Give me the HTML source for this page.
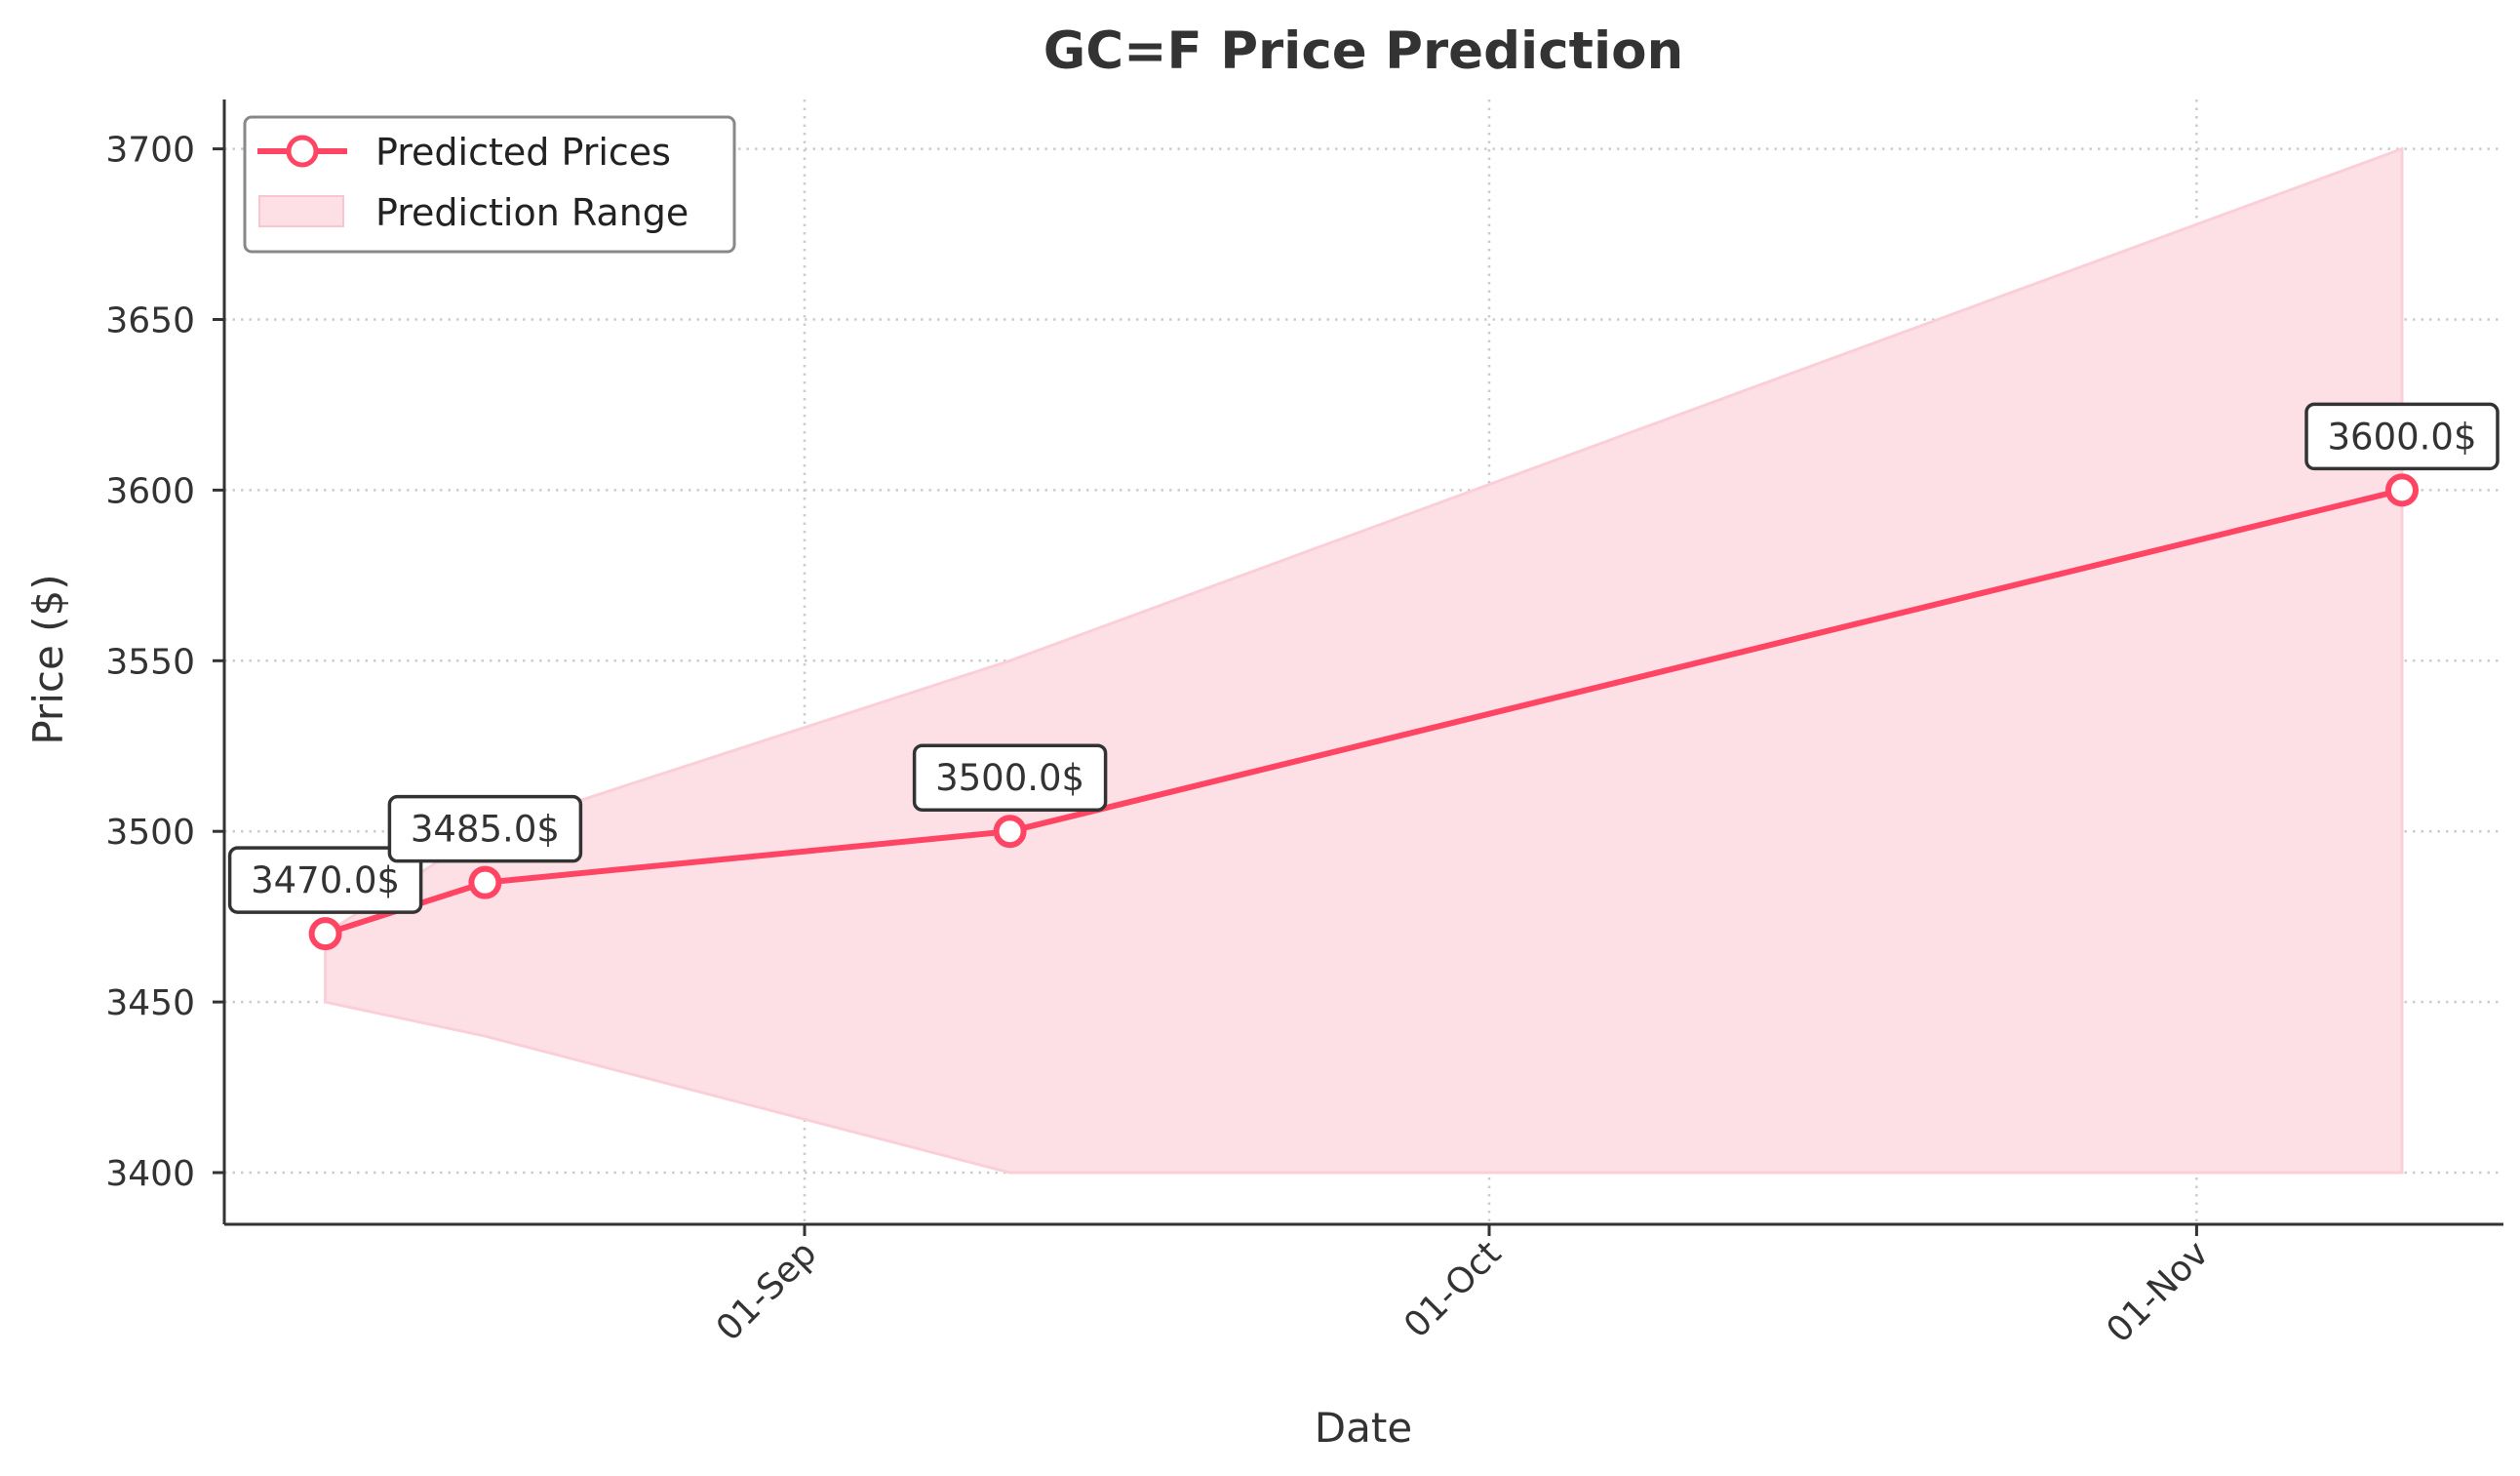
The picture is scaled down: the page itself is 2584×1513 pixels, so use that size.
<!DOCTYPE html>
<html><head><meta charset="utf-8"><style>
html,body{margin:0;padding:0;background:#fff;}
svg{display:block;font-family:"DejaVu Sans","Liberation Sans",sans-serif;}
</style></head><body>
<svg id="chart" width="2584" height="1513" viewBox="0 0 2584 1513" xmlns="http://www.w3.org/2000/svg">
<text x="1398" y="70" text-anchor="middle" font-size="53" font-weight="bold" fill="#333">GC=F Price Prediction</text>
<g id="grid"></g>
<g id="band"></g>
<g id="series"></g>
<g id="axes"></g>
<g id="labels"></g>
<text x="1398" y="1478" text-anchor="middle" font-size="42" fill="#333">Date</text>
<text transform="translate(64,676) rotate(-90)" text-anchor="middle" font-size="42" fill="#333">Price ($)</text>
<g>
<rect x="251" y="120" width="502" height="138" rx="7" fill="#fff" stroke="#888" stroke-width="3"/>
<line x1="264" y1="155" x2="356" y2="155" stroke="#ff4563" stroke-width="6"/>
<circle cx="310" cy="155" r="14" fill="#fff" stroke="#ff4563" stroke-width="5"/>
<rect x="266" y="201" width="86" height="31" fill="#fde0e6" stroke="#f9c6d0" stroke-width="2"/>
<text x="385" y="169" font-size="38" fill="#222">Predicted Prices</text>
<text x="385" y="231" font-size="38" fill="#222">Prediction Range</text>
</g>
</svg>
<script>
const dates = ["2025-08-11","2025-08-18","2025-09-10","2025-11-10"];
const prices = [3470, 3485, 3500, 3600];
const upper = [3470, 3500, 3550, 3700];
const lower = [3450, 3440, 3400, 3400];
const yTicks = [3400, 3450, 3500, 3550, 3600, 3650, 3700];
const xTickDates = ["2025-09-01","2025-10-01","2025-11-01"];
const xTickLabels = ["01-Sep","01-Oct","01-Nov"];

const NS="http://www.w3.org/2000/svg";
const L=230,R=2567,T=102,B=1255;
const day=86400000, ref=Date.parse("2025-09-01");
function xs(d){return 825+(Date.parse(d)-ref)/day*23.4;}
function ys(v){return 1202-(v-3400)/300*1049.4;}
function mk(tag,attrs,parent){const e=document.createElementNS(NS,tag);for(const k in attrs)e.setAttribute(k,attrs[k]);parent.appendChild(e);return e;}
const grid=document.getElementById('grid'),band=document.getElementById('band'),series=document.getElementById('series'),axes=document.getElementById('axes'),labels=document.getElementById('labels');

yTicks.forEach(v=>{
  const y=ys(v);
  const g=mk('line',{x1:L,x2:R,y1:y,y2:y,stroke:'#ccc','stroke-width':2.5,'stroke-dasharray':'2.5 6'},grid);
  
  
  const t=mk('line',{x1:L-12,x2:L,y1:y,y2:y,stroke:'#333','stroke-width':3},axes);
  
  
  const tx=mk('text',{x:L-30,y:y+13,'text-anchor':'end','font-size':36,fill:'#333'},axes);
  tx.textContent=v;
  
  
});
xTickDates.forEach((d,i)=>{
  const x=xs(d);
  const g=mk('line',{x1:x,x2:x,y1:T,y2:B,stroke:'#ccc','stroke-width':2.5,'stroke-dasharray':'2.5 6'},grid);
  
  
  const t=mk('line',{x1:x,x2:x,y1:B,y2:B+12,stroke:'#333','stroke-width':3},axes);
  
  
  const tx=mk('text',{transform:`translate(${x+14},${B+32}) rotate(-45)`,'text-anchor':'end','font-size':36,fill:'#333'},axes);
  tx.textContent=xTickLabels[i];
  
  
});
const sp1=mk('line',{x1:L,x2:L,y1:T,y2:B,stroke:'#333','stroke-width':3},axes);


const sp2=mk('line',{x1:L,x2:R,y1:B,y2:B,stroke:'#333','stroke-width':3},axes);



let pts=dates.map((d,i)=>xs(d)+','+ys(upper[i]));
for(let i=dates.length-1;i>=0;i--)pts.push(xs(dates[i])+','+ys(lower[i]));
const poly=mk('polygon',{points:pts.join(' '),fill:'#fde0e6',stroke:'#fbcfd8','stroke-width':3},band);



const line=mk('polyline',{points:dates.map((d,i)=>xs(d)+','+ys(prices[i])).join(' '),fill:'none',stroke:'#ff4563','stroke-width':6,'stroke-linejoin':'round'},series);


dates.forEach((d,i)=>{
  const x=xs(d),y=ys(prices[i]);
  const c=mk('circle',{cx:x,cy:y,r:14,fill:'#fff',stroke:'#ff4563','stroke-width':6},series);
  
  
  const w=196,h=66,cy=y-55;
  const r=mk('rect',{x:x-w/2,y:cy-h/2,width:w,height:h,rx:8,fill:'#fff',stroke:'#333','stroke-width':3.5},labels);
  
  
  const t=mk('text',{x:x,y:cy+13,'text-anchor':'middle','font-size':37,fill:'#333'},labels);
  t.textContent=prices[i].toFixed(1)+'$';
  
  
});
</script>
</body></html>
